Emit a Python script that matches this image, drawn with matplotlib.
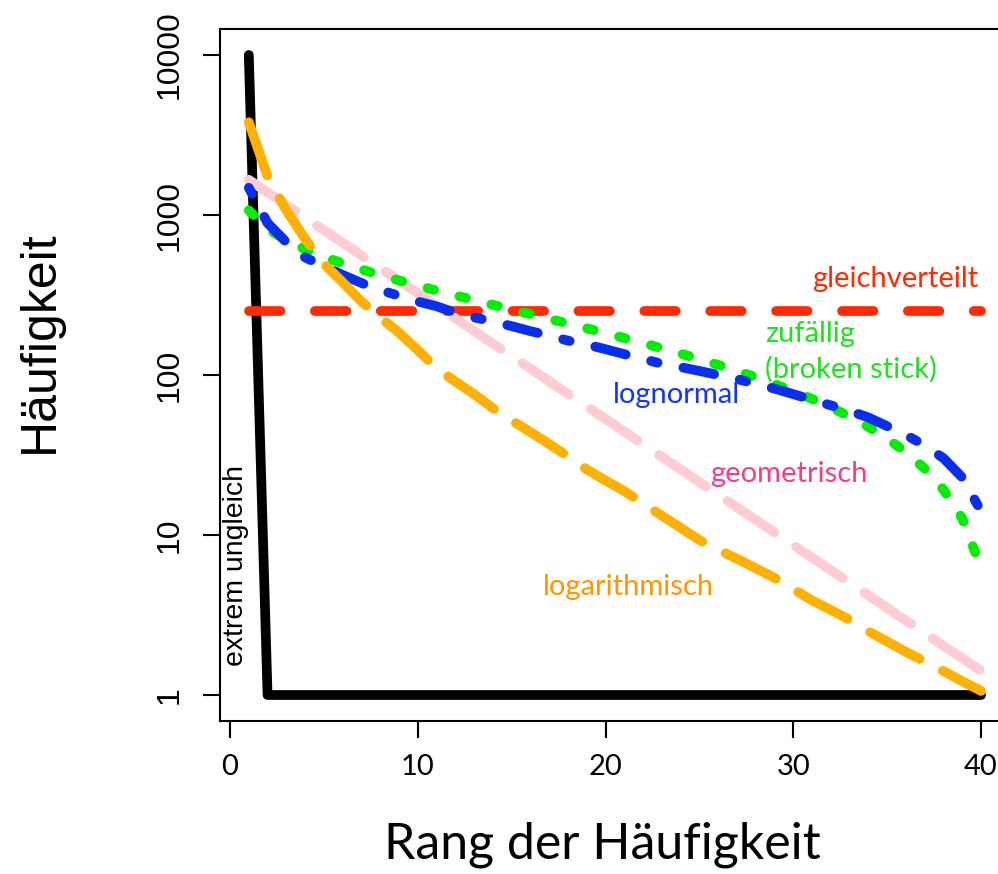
import matplotlib
matplotlib.use("Agg")
import matplotlib.pyplot as plt

rank = list(range(1, 41))

extrem_ungleich = [10000] + [1] * 39
gleichverteilt = [250] * 40
geometrisch = [1660, 1385, 1155, 964, 804, 671, 559, 467, 389, 325,
               271, 226, 189, 157, 131, 110, 91.4, 76.2, 63.6, 53.1,
               44.3, 36.9, 30.8, 25.7, 21.4, 17.9, 14.9, 12.45, 10.4, 8.66,
               7.23, 6.03, 5.03, 4.20, 3.50, 2.92, 2.44, 2.03, 1.70, 1.42]
logarithmisch = [3800, 1740, 1070, 708, 495, 380, 288, 229, 184, 143,
                 110, 91, 76, 62, 52, 44, 37, 31, 25.7, 21.9,
                 18.8, 15.8, 13.2, 11.1, 9.3, 8.1, 7.1, 6.2, 5.4, 4.6,
                 3.9, 3.4, 2.95, 2.5, 2.16, 1.86, 1.62, 1.41, 1.22, 1.06]
zufaellig = [1069.6, 819.6, 694.6, 611.3, 548.8, 498.8, 457.1, 421.4, 390.2, 362.4,
             337.4, 314.7, 293.8, 274.6, 256.7, 240.1, 224.5, 209.7, 195.9, 182.7,
             170.2, 158.3, 146.9, 136.1, 125.6, 115.6, 106.0, 96.8, 87.8, 79.2,
             70.9, 62.8, 55.0, 47.4, 40.1, 32.9, 26.0, 19.2, 12.7, 6.25]
lognormal = [1479, 891, 676, 543, 479, 422, 376, 339, 313, 288,
             269, 245, 229, 216, 202, 188, 176, 164, 155, 145,
             135, 126, 117.5, 112, 106, 100, 94.4, 88.1, 82.2, 75.9,
             70.0, 64.6, 59.6, 54.3, 47.9, 42.2, 36.3, 30.2, 22.9, 14.1]

x_ticks = [0, 10, 20, 30, 40]
y_ticks = [1, 10, 100, 1000, 10000]
y_ticklabels = ["1", "10", "100", "1000", "10000"]

GILL = ["Lato", "DejaVu Sans"]
HELV = ["Liberation Sans", "DejaVu Sans"]

plt.rcParams["lines.scale_dashes"] = False

fig = plt.figure(figsize=(9.98, 8.74), dpi=100)
ax = fig.add_axes([0.21994, 0.17551, 0.7924, 0.79085])

LW = 7.0   # line thickness in points
U = 5.93   # R dash unit in points


def rdash(*pattern):
    # convert an R lty pattern (on/off in line-width units) to points for
    # round-capped segments
    out = []
    for i, p in enumerate(pattern):
        if i % 2 == 0:
            out.append(max((p + 1) * U - LW, 0.5))
        else:
            out.append((p - 1) * U + LW)
    return tuple(out)


common = dict(linewidth=LW, dash_capstyle="round", solid_capstyle="round",
              solid_joinstyle="round", dash_joinstyle="round")

ax.plot(rank, extrem_ungleich, color="black", **common, zorder=2)
ax.plot(rank, gleichverteilt, color="#FF2A00", dashes=rdash(4, 4), **common, zorder=3)
ax.plot(rank, geometrisch, color="#FFCCD4", dashes=rdash(7, 3), **common, zorder=4)
ax.plot(rank, zufaellig, color="#00EE00", dashes=rdash(1, 3), **common, zorder=5)
ax.plot(rank, lognormal, color="#0A2EEE", dashes=rdash(1, 3, 4, 3), **common, zorder=6)
ax.plot(rank, logarithmisch, color="#FFB000", dashes=rdash(7, 3), **common, zorder=7)

ax.set_yscale("log")
ax.set_xlim(-0.56, 41.56)
ax.set_ylim(10 ** -0.16, 10 ** 4.16)
ax.set_xticks(x_ticks)
ax.set_xticklabels([str(v) for v in x_ticks], fontfamily=GILL, fontsize=21)
ax.set_yticks(y_ticks)
ax.yaxis.set_minor_locator(matplotlib.ticker.NullLocator())
ax.set_yticklabels(y_ticklabels, fontfamily=HELV, fontsize=23)
for lab in ax.get_yticklabels():
    lab.set_rotation(90)
    lab.set_va("center")
    lab.set_ha("right")
ax.tick_params(axis="both", direction="out", length=12, width=1.5, color="black")
ax.tick_params(axis="x", pad=12)
ax.tick_params(axis="y", pad=13)
for s in ax.spines.values():
    s.set_linewidth(1.5)

# annotations
FS = 21
ax.text(39.84, 356, "gleichverteilt", color="#FF2A00", fontfamily=GILL,
        fontsize=FS, ha="right", va="baseline")
ax.text(28.5, 161.5, "zufällig", color="#22E022", fontfamily=GILL,
        fontsize=FS, ha="left", va="baseline")
ax.text(28.5, 95.6, "(broken stick)", color="#22E022", fontfamily=GILL,
        fontsize=FS, ha="left", va="baseline")
ax.text(20.38, 66.5, "lognormal", color="#1436F0", fontfamily=GILL,
        fontsize=FS, ha="left", va="baseline")
ax.text(25.57, 21.5, "geometrisch", color="#F43C8E", fontfamily=GILL,
        fontsize=FS, ha="left", va="baseline")
ax.text(16.69, 4.22, "logarithmisch", color="#FF9500", fontfamily=GILL,
        fontsize=FS, ha="left", va="baseline")
ax.text(0.32, 6.49, "extrem ungleich", color="black", fontfamily=HELV,
        fontsize=20.5, rotation=90, ha="center", va="center")

fig.text(40 / 998, 1 - 342 / 874, "Häufigkeit", fontfamily=HELV, fontsize=36,
         rotation=90, ha="center", va="center")
fig.text(602 / 998, 1 - 845 / 874, "Rang der Häufigkeit", fontfamily=GILL,
         fontsize=36, ha="center", va="center")

fig.savefig("out.png", dpi=100)
